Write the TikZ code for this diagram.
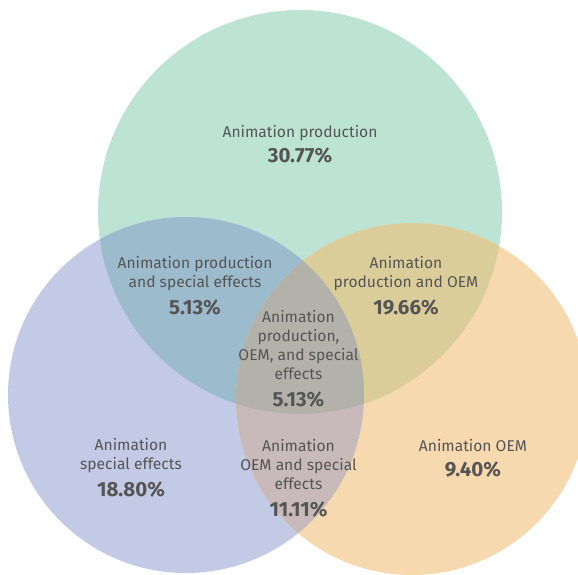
\documentclass[tikz,border=0pt]{standalone}
\usepackage{fontspec}
\setmainfont{Fira Sans}
\usetikzlibrary{positioning}
\definecolor{vgreen}{HTML}{BDE3D5}
\definecolor{vblue}{HTML}{C3CAE6}
\definecolor{vorange}{HTML}{F7D9AF}
\definecolor{vgb}{HTML}{9CBBCC}
\definecolor{vgo}{HTML}{DBCD9A}
\definecolor{vbo}{HTML}{C8B9BA}
\definecolor{vall}{HTML}{B3B2AA}
\definecolor{vtext}{HTML}{555555}

\begin{document}
\begin{tikzpicture}[x=1pt, y=-1pt,
      lbl/.style={text=vtext, font=\fontsize{15.6}{19}\selectfont, align=center, inner sep=0pt, execute at end node=\strut},
      pct/.style={text=vtext, font=\fontsize{20.5}{24}\selectfont\bfseries, inner sep=0pt, below=6pt of #1}]
    \useasboundingbox (0,0) rectangle (578,574);
    % the three sets
    \def\cprod{(300,212) circle[radius=202]}
    \def\cspec{(186,395) circle[radius=178]}
    \def\coem{(412,399) circle[radius=176]}
    \fill[vgreen] \cprod;
    \fill[vblue] \cspec;
    \fill[vorange] \coem;
    % overlaps
    \begin{scope} \clip \cprod; \fill[vgb] \cspec; \end{scope}
    \begin{scope} \clip \cprod; \fill[vgo] \coem; \end{scope}
    \begin{scope} \clip \cspec; \fill[vbo] \coem; \end{scope}
    \begin{scope} \clip \cprod; \clip \cspec; \fill[vall] \coem; \end{scope}
    % labels
    \node[lbl] (prod) at (300,133.5) {Animation production};
    \node[pct=prod, below=4pt of prod] (prodv) {30.77\%};
    \node[lbl] (ps) at (195,274.5) {Animation production\\and special effects};
    \node[pct=ps] (psv) {5.13\%};
    \node[lbl] (po) at (406,274.5) {Animation\\production and OEM};
    \node[pct=po] (pov) {19.66\%};
    \node[lbl] (all) at (298.5,348) {Animation\\production,\\OEM, and special\\effects};
    \node[pct=all] (allv) {5.13\%};
    \node[lbl] (spec) at (131,457) {Animation\\special effects};
    \node[pct=spec] (specv) {18.80\%};
    \node[lbl] (os) at (298.5,467) {Animation\\OEM and special\\effects};
    \node[pct=os] (osv) {11.11\%};
    \node[lbl] (oem) at (473,448) {Animation OEM};
    \node[pct=oem, below=4pt of oem] (oemv) {9.40\%};
  \end{tikzpicture}
\end{document}
